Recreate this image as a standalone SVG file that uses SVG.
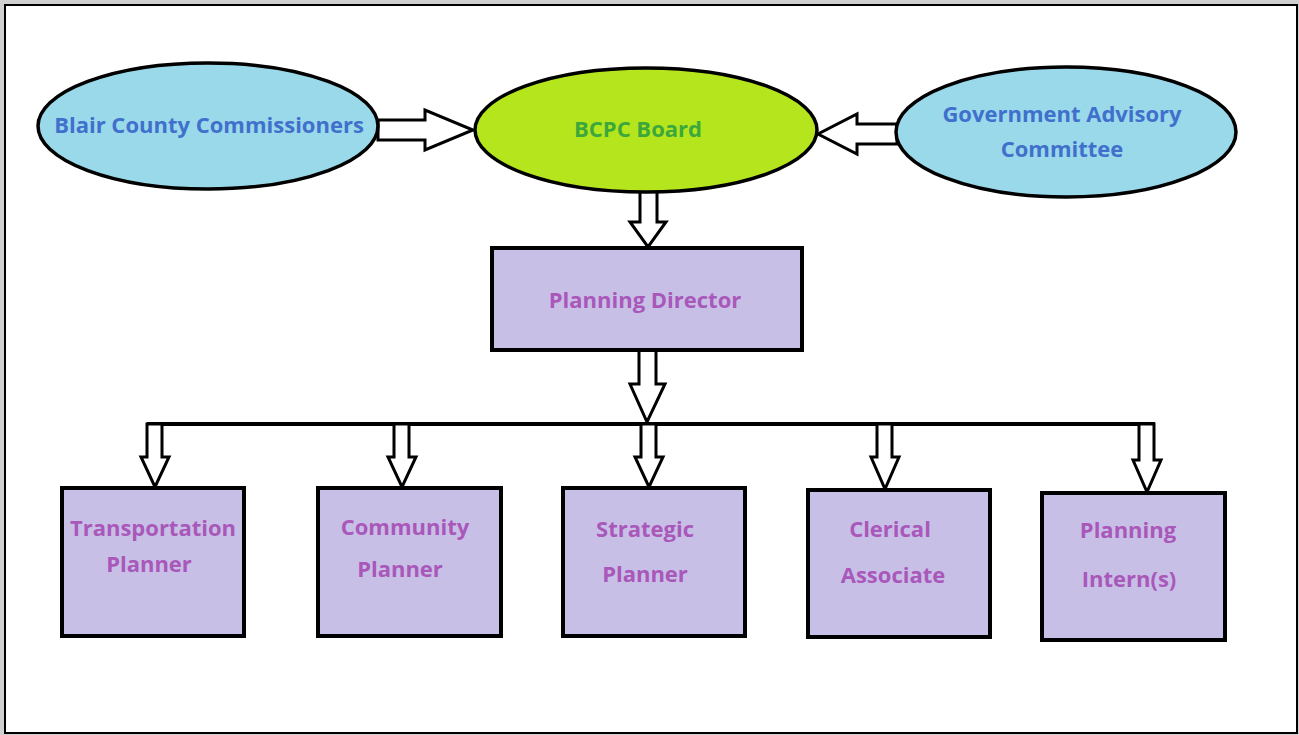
<svg xmlns="http://www.w3.org/2000/svg" width="1299" height="735" viewBox="0 0 1299 735">
<style>
.ell{stroke:#000;stroke-width:3.5}
.blue{fill:#99D9EA}
.box{fill:#C8BFE7;stroke:#000;stroke-width:4}
.arr{fill:#fff;stroke:#000;stroke-width:3;stroke-linejoin:miter}
.bus{fill:none;stroke:#000;stroke-width:4}
text{font-family:"Open Sans","Liberation Sans",sans-serif;font-weight:700;font-size:22px;text-anchor:middle}
.tb{fill:#4070CC}
.tg{fill:#3CA83C}
.tp{fill:#A958BA}
</style>
<rect x="0" y="0" width="1299" height="735" fill="#d0d0d0"/>
<rect x="5" y="5" width="1292" height="728" fill="#fff" stroke="#000" stroke-width="2"/>

<g id="connectors">
  <polygon class="arr" points="378,120 425,120 425,110 473,130 425,150 425,140 378,140"/>
  <polygon class="arr" points="897,124 857,124 857,114 818,134 857,154 857,144 897,144"/>
  <polygon class="arr" points="640,191 657,191 657,222 666,222 648,247 630,222 640,222"/>
  <polygon class="arr" points="639,350 656,350 656,384 665,384 647,422 630,384 639,384"/>
  <polyline class="bus" points="147,424 1155,424"/>
  <polygon class="arr" points="147,424 162,424 162,457 169,457 155,487 141,457 147,457"/>
  <polygon class="arr" points="394,424 409,424 409,457 416,457 402,487 388,457 394,457"/>
  <polygon class="arr" points="641,424 656,424 656,457 663,457 649,487 635,457 641,457"/>
  <polygon class="arr" points="877,424 892,424 892,457 899,457 885,489 871,457 877,457"/>
  <polygon class="arr" points="1139,424 1154,424 1154,460 1161,460 1147,492 1133,460 1139,460"/>
</g>

<g id="blair">
  <ellipse class="ell blue" cx="208" cy="126" rx="170" ry="63"/>
  <text class="tb" x="209" y="133">Blair County Commissioners</text>
</g>
<g id="bcpc">
  <ellipse class="ell" fill="#B5E61D" cx="646" cy="130" rx="171" ry="62"/>
  <text class="tg" x="638" y="137">BCPC Board</text>
</g>
<g id="gac">
  <ellipse class="ell blue" cx="1066" cy="132" rx="170" ry="65"/>
  <text class="tb" x="1062" y="122">Government Advisory</text>
  <text class="tb" x="1062" y="157">Committee</text>
</g>
<g id="director">
  <rect class="box" x="492" y="248" width="310" height="102"/>
  <text class="tp" x="645" y="308">Planning Director</text>
</g>
<g id="transportation">
  <rect class="box" x="62" y="488" width="182" height="148"/>
  <text class="tp" x="153" y="536">Transportation</text>
  <text class="tp" x="149" y="572">Planner</text>
</g>
<g id="community">
  <rect class="box" x="318" y="488" width="183" height="148"/>
  <text class="tp" x="405" y="535">Community</text>
  <text class="tp" x="400" y="577">Planner</text>
</g>
<g id="strategic">
  <rect class="box" x="563" y="488" width="182" height="148"/>
  <text class="tp" x="645" y="537">Strategic</text>
  <text class="tp" x="645" y="582">Planner</text>
</g>
<g id="clerical">
  <rect class="box" x="808" y="490" width="182" height="147"/>
  <text class="tp" x="890" y="537">Clerical</text>
  <text class="tp" x="893" y="583">Associate</text>
</g>
<g id="interns">
  <rect class="box" x="1042" y="493" width="183" height="147"/>
  <text class="tp" x="1128" y="538">Planning</text>
  <text class="tp" x="1129" y="587">Intern(s)</text>
</g>
</svg>
